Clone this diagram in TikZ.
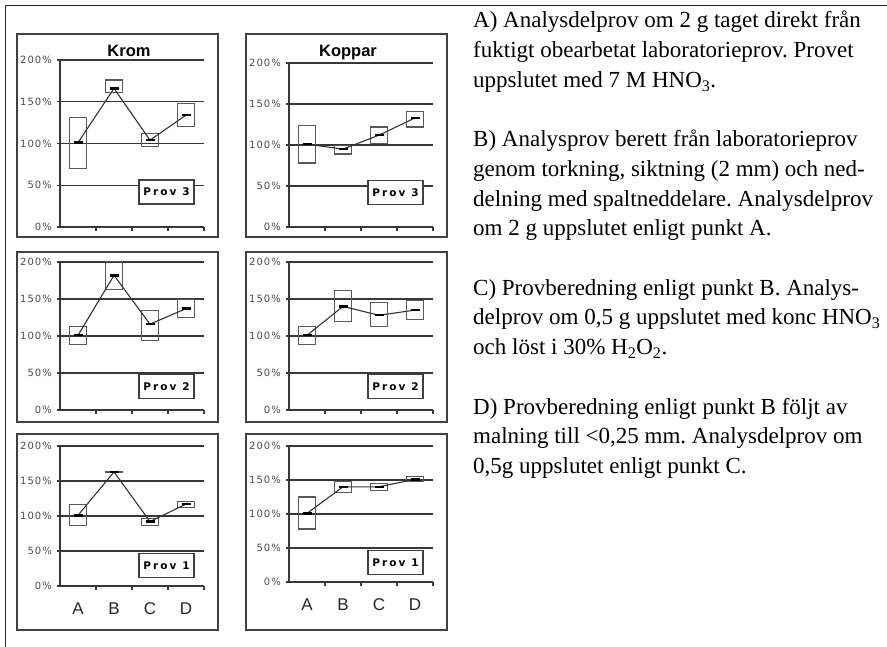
\documentclass[tikz,border=0pt]{standalone}
\usepackage{fontspec}
\setmainfont{Liberation Serif}
\newfontfamily\chartfont{Liberation Sans}
\newfontfamily\tickfont[LetterSpace=10]{DejaVu Sans}
\newfontfamily\provfont[LetterSpace=20]{DejaVu Sans}
\usetikzlibrary{positioning}
\frenchspacing

\tikzset{
  frameline/.style={draw=black!85, line width=0.9pt},
  panelbox/.style={draw=black!75, line width=1.6pt},
  gridline/.style={draw=black!78, line width=1.2pt},
  errbox/.style={draw=black!65, line width=1.1pt},
  dataline/.style={draw=black!80, line width=1.1pt},
  meanbar/.style={draw=black, line width=2.4pt},
  ylabel/.style={anchor=east, text=black!70, inner sep=0pt,
    font=\tickfont\fontsize{10}{11}\selectfont},
  catlabel/.style={text=black!85, inner sep=0pt,
    font=\chartfont\fontsize{17}{19}\selectfont},
  charttitle/.style={anchor=base, inner sep=0pt,
    font=\chartfont\bfseries\fontsize{16.5}{18}\selectfont},
  provlabel/.style={draw=black!75, line width=1.2pt, fill=white,
    minimum width=55pt, minimum height=24pt, inner sep=0pt,
    font=\provfont\bfseries\fontsize{10.5}{11}\selectfont},
  para/.style={anchor=base west, align=left, inner sep=0pt,
    font=\fontsize{23}{29.7}\selectfont}
}

% #1 name, #2 x of axis, #3 y of 0%, #4 px per 50%, #5 lo/hi/mean, #6 prov, #7 legend height (%)
\newcommand{\chart}[7]{%
  \pgfmathsetmacro\yunit{#4/50}
  \begin{scope}[shift={(#2,#3)}, x=1pt, y=\yunit pt]
    \draw[gridline] (0,0) -- (0,200);
    \foreach \v in {0,50,...,200} {
      \draw[gridline] (-3,\v) -- (144,\v);
      \node[ylabel] at (-8,\v) {\v\%};
    }
    \foreach \k in {1,...,4}
      \draw[gridline] (36*\k,0) -- ++(0pt,-4pt);
    \foreach [count=\i] \lo/\hi/\m in {#5} {
      \draw[errbox] (36*\i-26.5,\lo) rectangle (36*\i-9.5,\hi);
      \coordinate (#1-\i) at (36*\i-18,\m);
    }
    \draw[dataline] (#1-1) -- (#1-2) -- (#1-3) -- (#1-4);
    \foreach \i in {1,...,4}
      \draw[meanbar] ([xshift=-4.5pt]#1-\i) -- ([xshift=4.5pt]#1-\i);
    \node[provlabel] (#1-prov) at (106.5,#7) {Prov #6};
  \end{scope}}

\begin{document}
\begin{tikzpicture}[x=1pt,y=-1pt]
  \useasboundingbox (0,0) rectangle (887,647);
  \draw[frameline] (887,5) -- (5,5) -- (5,647);

  % panel frames
  \foreach \px in {17,246} {
    \draw[panelbox] (\px,34) rectangle (\px+201,237);
    \draw[panelbox] (\px,252) rectangle (\px+201,422);
    \draw[panelbox] (\px,434) rectangle (\px+201,630);
  }
  \node[charttitle] (krom) at (129,57) {Krom};
  \node[charttitle] (koppar) at (348,57) {Koppar};

  % Krom
  \chart{kr3}{60}{227}{41.75}{70/131/101, 161/176/166, 96/112/104, 120/148/134}{3}{42}
  \chart{kr2}{60}{410}{37}{89/113/101, 163/201/182, 94/135/116, 125/149/137}{2}{32}
  \chart{kr1}{60}{586}{35}{86/117/101, 162/164/163, 86/97/92, 112/121/117}{1}{29}
  % Koppar
  \chart{ko3}{289}{227}{41}{78/124/101, 89/99/95, 102/122/112, 122/141/133}{3}{42}
  \chart{ko2}{289}{410}{37}{89/113/101, 119/162/140, 113/145/128, 122/148/135}{2}{32}
  \chart{ko1}{289}{582}{34}{78/125/101, 132/148/140, 134/145/140, 148/155/151}{1}{29}

  \foreach [count=\i] \c in {A,B,C,D} {
    \node[catlabel] (krcat-\c) at (42+36*\i,609) {\c};
    \node[catlabel] (kocat-\c) at (271+36*\i,605) {\c};
  }

  % text to the right (placed at the baseline of the last line)
  \node[para] (pa) at (473,87.4) {A) Analysdelprov om 2 g taget direkt från\\
    fuktigt obearbetat laboratorieprov. Provet\\
    uppslutet med 7 M HNO\textsubscript{3}.};
  \node[para] (pb) at (473,235.9) {B) Analysprov berett från laboratorieprov\\
    genom torkning, siktning (2 mm) och ned-\\
    delning med spaltneddelare. Analysdelprov\\
    om 2 g uppslutet enligt punkt A.};
  \node[para] (pc) at (473,354.7) {C) Provberedning enligt punkt B. Analys-\\
    delprov om 0,5 g uppslutet med konc HNO\textsubscript{3}\\
    och löst i 30\% H\textsubscript{2}O\textsubscript{2}.};
  \node[para] (pd) at (473,473.5) {D) Provberedning enligt punkt B följt av\\
    malning till <0,25 mm. Analysdelprov om\\
    0,5g uppslutet enligt punkt C.};
\end{tikzpicture}
\end{document}
